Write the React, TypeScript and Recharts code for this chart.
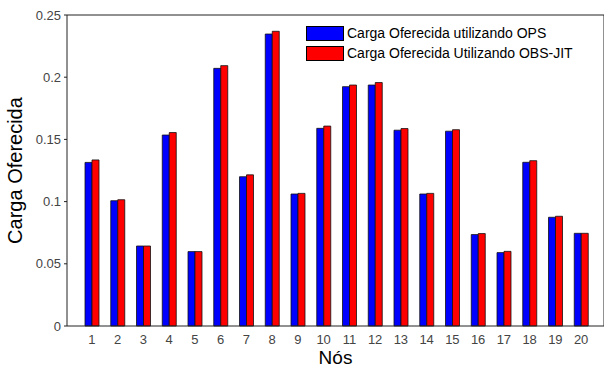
import React from "react";
import { BarChart, Bar, XAxis, YAxis } from "recharts";

const nodes = ["1", "2", "3", "4", "5", "6", "7", "8", "9", "10", "11", "12", "13", "14", "15", "16", "17", "18", "19", "20"];
const opsLoad = [0.1315, 0.1007, 0.0643, 0.1535, 0.0598, 0.2071, 0.1200, 0.2347, 0.1061, 0.1589, 0.1924, 0.1937, 0.1574, 0.1061, 0.1566, 0.0735, 0.0590, 0.1316, 0.0874, 0.0745];
const obsJitLoad = [0.1335, 0.1015, 0.0643, 0.1555, 0.0598, 0.2093, 0.1215, 0.2369, 0.1066, 0.1607, 0.1937, 0.1957, 0.1587, 0.1066, 0.1578, 0.0743, 0.0600, 0.1329, 0.0882, 0.0745];
const yTicks = [0, 0.05, 0.1, 0.15, 0.2, 0.25];
const seriesNames = ["Carga Oferecida utilizando OPS", "Carga Oferecida Utilizando OBS-JIT"];
const seriesColors = ["#0000ff", "#ff0000"];

const data = nodes.map((n, i) => ({ node: n, ops: opsLoad[i], obs: obsJitLoad[i] }));

const font = "'Liberation Sans', Arial, sans-serif";

// legend drawn on top of the chart so it doesn't push the plot down
const LegendBox = () => (
  <div
    style={{
      position: "absolute",
      left: 306,
      top: 23,
      fontFamily: font,
      fontSize: 14,
      color: "#000",
    }}
  >
    {seriesNames.map((t, i) => (
      <div key={t} style={{ display: "flex", alignItems: "center", height: 20 }}>
        <div
          style={{
            width: 36,
            height: 13,
            background: seriesColors[i],
            border: "1px solid #000",
            marginRight: 3,
          }}
        />
        <span>{t}</span>
      </div>
    ))}
  </div>
);

const App: React.FC = () => {
  return (
    <div style={{ position: "fixed", left: 0, top: 0, width: 604, height: 367, background: "#fff" }}>
      <BarChart
        width={604}
        height={367}
        data={data}
        margin={{ top: 15, right: 0, left: 0, bottom: 0 }}
        barSize={7}
        barGap={0}
      >
        <XAxis
          dataKey="node"
          height={41}
          padding={{ left: 12, right: 10 }}
          axisLine={{ stroke: "#222" }}
          tickLine={false}
          tick={{ fill: "#444", fontSize: 13, fontFamily: font }}
          tickMargin={3}
          interval={0}
          label={{
            value: "Nós",
            position: "insideBottom",
            offset: 3,
            fill: "#000",
            fontSize: 19,
            fontFamily: font,
          }}
        />
        <XAxis
          xAxisId="top"
          dataKey="node"
          orientation="top"
          mirror
          padding={{ left: 12, right: 10 }}
          axisLine={{ stroke: "#222" }}
          tickLine={{ stroke: "#222" }}
          tickSize={5}
          tick={false}
          interval={0}
        />
        <XAxis
          xAxisId="bottomTicks"
          dataKey="node"
          orientation="bottom"
          mirror
          padding={{ left: 12, right: 10 }}
          axisLine={false}
          tickLine={{ stroke: "#000" }}
          tickSize={4}
          tick={false}
          interval={0}
        />
        <YAxis
          width={67}
          domain={[0, 0.25]}
          ticks={yTicks}
          axisLine={{ stroke: "#222" }}
          tickLine={{ stroke: "#222" }}
          tickSize={3}
          tickMargin={3}
          tick={{ fill: "#444", fontSize: 13, fontFamily: font }}
          label={{
            value: "Carga Oferecida",
            angle: -90,
            position: "insideLeft",
            offset: 15,
            style: { textAnchor: "middle" },
            fill: "#000",
            fontSize: 20,
            fontFamily: font,
          }}
        />
        <YAxis
          yAxisId="right"
          orientation="right"
          mirror
          domain={[0, 0.25]}
          ticks={yTicks}
          axisLine={{ stroke: "#222" }}
          tickLine={{ stroke: "#222" }}
          tickSize={5}
          tick={false}
        />
        <Bar
          dataKey="ops"
          name={seriesNames[0]}
          fill={seriesColors[0]}
          stroke="#111"
          strokeWidth={0.8}
          isAnimationActive={false}
        />
        <Bar
          dataKey="obs"
          name={seriesNames[1]}
          fill={seriesColors[1]}
          stroke="#111"
          strokeWidth={0.8}
          isAnimationActive={false}
        />
      </BarChart>
      <LegendBox />
    </div>
  );
};

export default App;
